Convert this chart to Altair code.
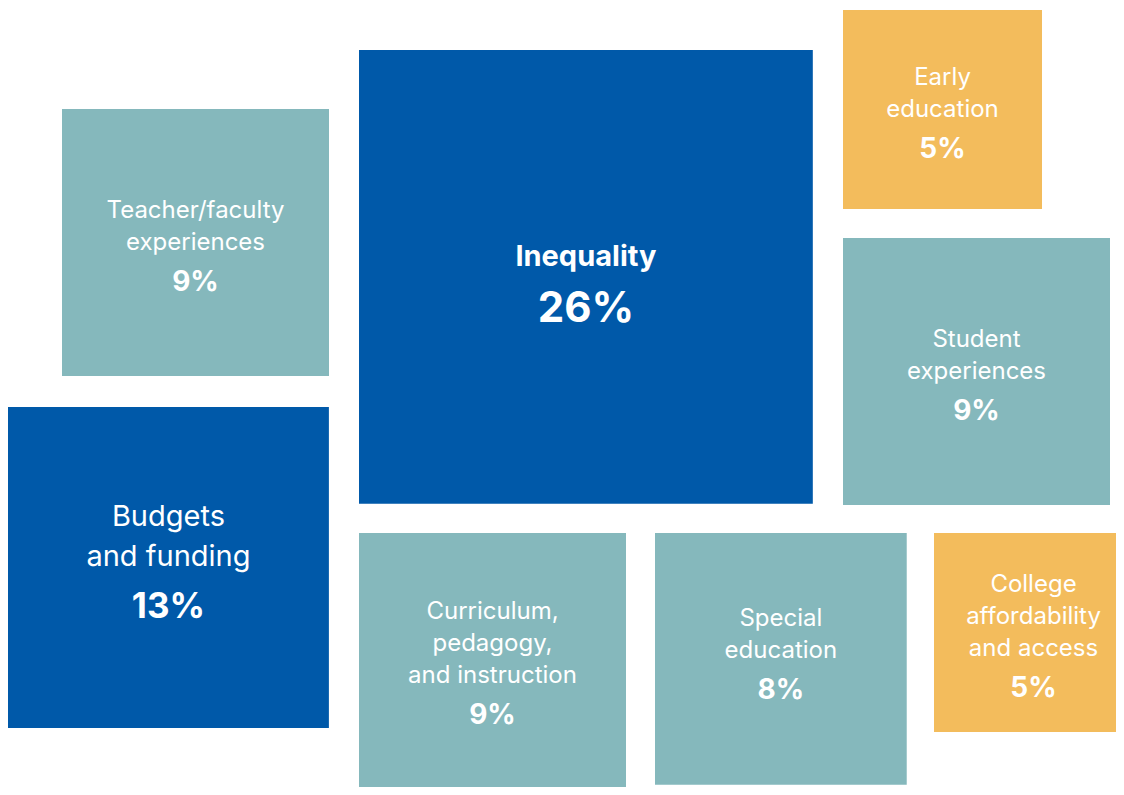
import altair as alt
import pandas as pd
import numpy as np

# ---- data ----
categories = [
    "Inequality",
    "Budgets and funding",
    "Teacher/faculty experiences",
    "Student experiences",
    "Curriculum, pedagogy, and instruction",
    "Special education",
    "Early education",
    "College affordability and access",
]
shares = [26, 13, 9, 9, 9, 8, 5, 5]
label_lines = [
    ["Inequality"],
    ["Budgets", "and funding"],
    ["Teacher/faculty", "experiences"],
    ["Student", "experiences"],
    ["Curriculum,", "pedagogy,", "and instruction"],
    ["Special", "education"],
    ["Early", "education"],
    ["College", "affordability", "and access"],
]

# ---- layout (page pixels: top-left anchor of each square, text nudge) ----
anchor_left = [359, 8, 62, 843, 359, 655, 843, 934]
anchor_top = [50, 407, 109, 238, 533, 533, 10, 533]
text_nudge = [0, 0, 0, 0, -7, -8, 0, 0]
SIDE_PER_SQRT_PCT = 89.0  # square side = 89 * sqrt(share)

W, H = 1108, 779
X0, Y0 = 8, 8

# ---- styles ----
FONT = "Inter"
tier_domain = ["high", "mid", "low"]
tier_colors = ["#0059A9", "#85B8BC", "#F3BC5C"]
text_style = {
    # label font size, label weight, pct font size, line step, pct step, baseline shift
    "hero": dict(lfs=29, lbold=True, pfs=42, L=0, P=56, k=17),
    "large": dict(lfs=29, lbold=False, pfs=35, L=40, P=52, k=5),
    "normal": dict(lfs=24, lbold=False, pfs=28, L=32, P=41, k=12),
}

def tier_of(v):
    if v >= 13:
        return "high"
    if v >= 8:
        return "mid"
    return "low"

max_share = max(shares)

rect_rows, text_rows = [], []
for cat, v, lines, lx, ty, nudge in zip(categories, shares, label_lines, anchor_left, anchor_top, text_nudge):
    side = SIDE_PER_SQRT_PCT * np.sqrt(v)
    t = tier_of(v)
    rect_rows.append(dict(cat=cat, share=v, tier=t, left=lx, right=lx + side, top=ty, bottom=ty + side))
    style = "hero" if v == max_share else ("large" if t == "high" else "normal")
    st = text_style[style]
    n = len(lines)
    cx = lx + side / 2
    cy = ty + side / 2
    block = (n - 1) * st["L"] + st["P"]
    b0 = cy - block / 2 + st["k"] + nudge
    for i, line in enumerate(lines):
        text_rows.append(dict(cat=cat, text=line, x=cx, y=b0 + i * st["L"], fs=st["lfs"],
                              kind="label_bold" if st["lbold"] else "label"))
    text_rows.append(dict(cat=cat, text=f"{v}%", x=cx, y=b0 + (n - 1) * st["L"] + st["P"],
                          fs=st["pfs"], kind="pct"))

rect_df = pd.DataFrame(rect_rows)
text_df = pd.DataFrame(text_rows)

xs = alt.Scale(domain=[X0, X0 + W], nice=False, zero=False)
ys = alt.Scale(domain=[Y0, Y0 + H], nice=False, zero=False, reverse=True)

rects = alt.Chart(rect_df).mark_rect().encode(
    x=alt.X("left:Q", scale=xs, axis=None),
    x2="right:Q",
    y=alt.Y("top:Q", scale=ys, axis=None),
    y2="bottom:Q",
    color=alt.Color("tier:N", scale=alt.Scale(domain=tier_domain, range=tier_colors), legend=None),
)

def text_layer(kind, weight):
    return alt.Chart(text_df).transform_filter(alt.datum.kind == kind).mark_text(
        font=FONT, color="white", align="center", baseline="alphabetic", fontWeight=weight
    ).encode(
        x=alt.X("x:Q", scale=xs, axis=None),
        y=alt.Y("y:Q", scale=ys, axis=None),
        text="text:N",
        size=alt.Size("fs:Q", scale=None, legend=None),
    )

chart = alt.layer(
    rects,
    text_layer("label", 400),
    text_layer("label_bold", 700),
    text_layer("pct", 700),
).properties(
    width=W, height=H, padding=0, autosize="none", background="white"
).configure_view(stroke=None)

chart.save("out.html", embed_options={"renderer": "svg", "actions": False})
